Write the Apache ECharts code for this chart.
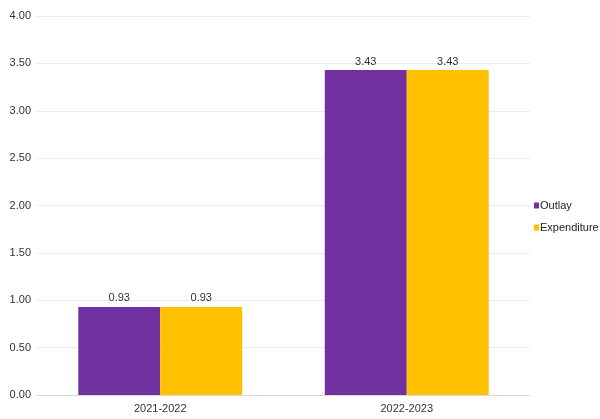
<!DOCTYPE html>
<html><head><meta charset="utf-8">
<script src="https://cdn.jsdelivr.net/npm/echarts@6/dist/echarts.min.js"></script>
<style>html,body{margin:0;padding:0;background:#fff}#c{width:600px;height:419px}</style>
</head><body><div id="c"></div>
<script>
const categories = ['2021-2022', '2022-2023'];
const outlay = [0.93, 3.43];
const expenditure = [0.93, 3.43];
const seriesNames = ['Outlay', 'Expenditure'];
const FONT = '"Liberation Sans Narrow", "Liberation Sans", sans-serif';
const chart = echarts.init(document.getElementById('c'), null, {renderer: 'canvas'});
const lbl = {show: true, position: 'top', distance: 3, color: '#333', fontSize: 11, fontFamily: FONT,
  formatter: p => p.value.toFixed(2)};
chart.setOption({
  animation: false,
  grid: {left: 37, right: 70, top: 16, bottom: 24, containLabel: false},
  legend: {orient: 'vertical', left: 534, top: 200, itemWidth: 5, itemHeight: 6, itemGap: 11, padding: 0,
    icon: 'rect', textStyle: {fontFamily: FONT, fontSize: 11, color: '#222', padding: [0,0,0,-4]}, data: seriesNames},
  xAxis: {type: 'category', data: categories,
    axisLine: {show: true, lineStyle: {color: '#d9d9d9'}}, axisTick: {show: false},
    axisLabel: {color: '#333', fontSize: 11, fontFamily: FONT, margin: 8}},
  yAxis: {type: 'value', min: 0, max: 4, interval: 0.5,
    axisLabel: {color: '#333', fontSize: 11, fontFamily: FONT, margin: 6, formatter: v => v.toFixed(2)},
    splitLine: {lineStyle: {color: '#ececec'}}, axisLine: {show: false}, axisTick: {show: false}},
  series: [
    {name: seriesNames[0], type: 'bar', data: outlay, barGap: '0%', barCategoryGap: '33.5%',
     itemStyle: {color: '#7030A0'}, label: lbl},
    {name: seriesNames[1], type: 'bar', data: expenditure,
     itemStyle: {color: '#FFC000'}, label: lbl}
  ]
});
</script></body></html>
